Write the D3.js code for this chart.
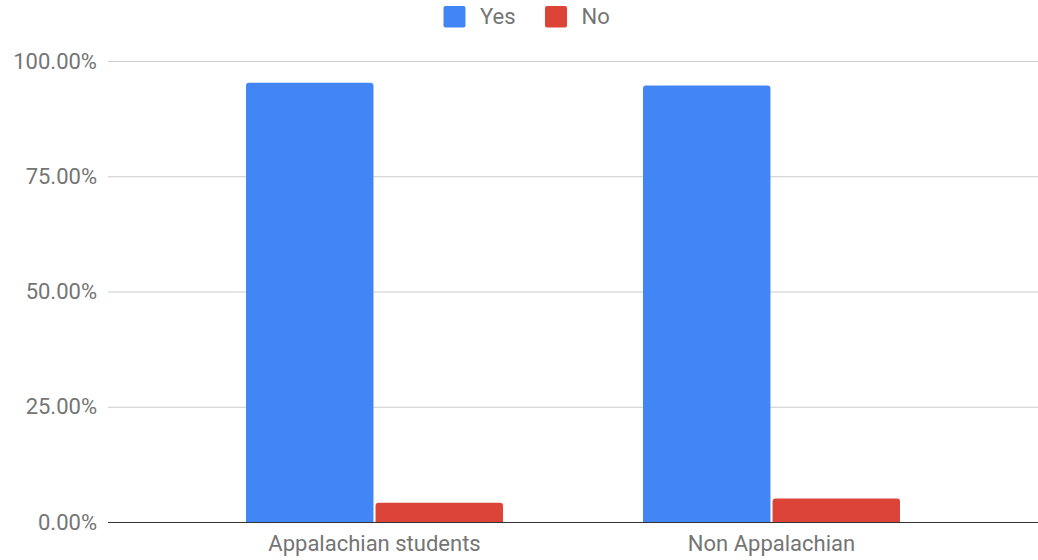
<!DOCTYPE html>
<html>
<head>
<meta charset="utf-8">
<script src="https://cdn.jsdelivr.net/npm/d3@7"></script>
<style>
  html, body { margin: 0; padding: 0; background: #fff; }
  svg { display: block; font-family: Roboto, "Noto Sans", sans-serif; }
</style>
</head>
<body>
<svg id="chart" width="1038" height="560"></svg>
<script>
// Survey answers by student group (share of respondents, %)
const categories = ["Appalachian students", "Non Appalachian"];
const seriesNames = ["Yes", "No"];
const yesValues = [95.4, 94.8];
const noValues = [4.3, 5.2];
const yTicks = [0, 25, 50, 75, 100];
const colors = ["#4285f4", "#db4437"];

const svg = d3.select("#chart");
const gridLeft = 108, gridRight = 1038;
const plotTop = 61.5, plotBottom = 522.5;
const groupWidth = 257;

const y = d3.scaleLinear().domain([0, 100]).range([plotBottom, plotTop]);
const x0 = d3.scaleBand().domain(categories).range([176, 970]).paddingInner(0).paddingOuter(0);
const bw = x0.bandwidth();
const x1 = d3.scaleBand().domain(seriesNames)
  .range([(bw - groupWidth) / 2, (bw + groupWidth) / 2]).paddingInner(0.016).paddingOuter(0);

// Gridlines
svg.append("g").selectAll("line").data(yTicks.filter(t => t > 0)).join("line")
  .attr("x1", gridLeft).attr("x2", gridRight)
  .attr("y1", d => y(d)).attr("y2", d => y(d))
  .attr("stroke", "#cccccc").attr("stroke-width", 1);

// Y axis labels
const yAxis = d3.axisLeft(y).tickValues(yTicks).tickSize(0).tickPadding(0)
  .tickFormat(d => d3.format(".2f")(d) + "%");
const ya = svg.append("g").attr("transform", `translate(97,0)`).call(yAxis);
ya.select(".domain").remove();
ya.selectAll("text").attr("fill", "#757575").attr("font-size", 22)
  .attr("font-family", "Roboto, sans-serif").attr("dy", "0.3em");

// Rounded-top bar path
function barPath(x, yTop, w, yBase, r) {
  r = Math.min(r, w / 2, (yBase - yTop));
  return `M${x},${yBase}V${yTop + r}Q${x},${yTop} ${x + r},${yTop}H${x + w - r}Q${x + w},${yTop} ${x + w},${yTop + r}V${yBase}Z`;
}

const rows = categories.map((c, i) => ({ cat: c, vals: [yesValues[i], noValues[i]] }));
const groups = svg.append("g").selectAll("g").data(rows).join("g")
  .attr("transform", d => `translate(${x0(d.cat)},0)`);
groups.selectAll("path").data(d => d.vals.map((v, j) => ({ name: seriesNames[j], v, j }))).join("path")
  .attr("d", d => barPath(x1(d.name), y(d.v), x1.bandwidth(), y(0), 3))
  .attr("fill", d => colors[d.j]);

// Baseline
svg.append("line").attr("x1", gridLeft).attr("x2", gridRight)
  .attr("y1", y(0)).attr("y2", y(0)).attr("stroke", "#333333").attr("stroke-width", 1.2);

// X axis labels
const xAxis = d3.axisBottom(x0).tickSize(0).tickPadding(0);
const xa = svg.append("g").attr("transform", `translate(0,${y(0)})`).call(xAxis);
xa.select(".domain").remove();
xa.selectAll("text").attr("fill", "#757575").attr("font-size", 22)
  .attr("font-family", "Roboto, sans-serif").attr("dy", null).attr("y", 28.5);

// Legend
const legend = svg.append("g");
const legendItems = [{ name: "Yes", x: 443.5 }, { name: "No", x: 545 }];
legendItems.forEach((it, i) => {
  legend.append("rect").attr("x", it.x).attr("y", 6).attr("width", 22).attr("height", 21.5)
    .attr("rx", 2).attr("fill", colors[i]);
  legend.append("text").attr("x", it.x + 36.5).attr("y", 24)
    .attr("font-size", 22).attr("fill", "#757575").text(it.name);
});
</script>
</body>
</html>
